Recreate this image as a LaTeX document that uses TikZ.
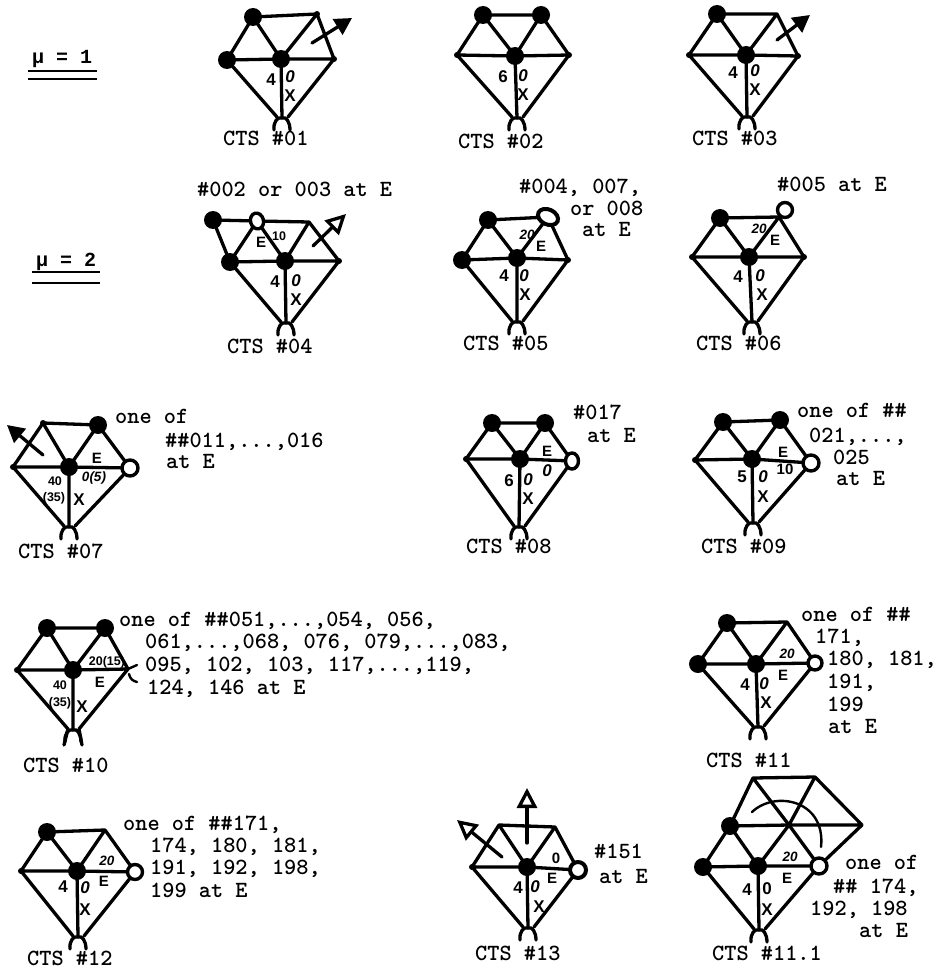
\documentclass[tikz,border=0pt]{standalone}
\usepackage{fontspec}
\usetikzlibrary{calc,arrows.meta,shapes.geometric}
\newfontfamily\hwfont{Liberation Sans}
\newfontfamily\mufont{Liberation Mono}
\tikzset{
  edge/.style={line width=3.3pt,line cap=round,line join=round},
  blob/.style={circle,fill=black,draw=none,inner sep=0pt,minimum size=18pt},
  ring/.style={circle,fill=white,draw=black,line width=3.4pt,inner sep=0pt,minimum size=15pt},
  oval/.style={ellipse,fill=white,draw=black,line width=3.4pt,inner sep=0pt},
  spot/.style={circle,fill=black,draw=none,inner sep=0pt,minimum size=6pt},
  tw/.style={anchor=base west,inner sep=0pt,font=\ttfamily\bfseries\fontsize{23.2}{24}\selectfont},
  mu/.style={anchor=base west,inner sep=0pt,font=\mufont\bfseries\fontsize{20}{22}\selectfont},
  hw/.style={inner sep=0pt,font=\hwfont\bfseries\fontsize{17}{17}\selectfont},
  hwm/.style={inner sep=0pt,font=\hwfont\bfseries\fontsize{15}{15}\selectfont},
  hws/.style={inner sep=0pt,font=\hwfont\bfseries\fontsize{12.5}{13}\selectfont},
  hwi/.style={inner sep=0pt,font=\hwfont\bfseries\itshape\fontsize{17}{17}\selectfont},
  hwsi/.style={inner sep=0pt,font=\hwfont\bfseries\itshape\fontsize{13.5}{14}\selectfont},
  solidarrow/.style={edge,-{Triangle[length=17pt,width=18pt]}},
  openarrow/.style={edge,-{Triangle[open,fill=white,length=20pt,width=20pt]}},
  rule/.style={line width=2pt},
}
% id, TL, TR, L, C, R, B
\newcommand\gem[7]{%
  \coordinate (#1TL) at (#2);
  \coordinate (#1TR) at (#3);
  \coordinate (#1L) at (#4);
  \coordinate (#1C) at (#5);
  \coordinate (#1R) at (#6);
  \coordinate (#1B) at (#7);
  \coordinate (#1BL) at ($(#1B)+(-5,-1)$);
  \coordinate (#1BR) at ($(#1B)+(6,-1)$);
  \coordinate (#1LL) at ($(#1B)+(-8,12)$);
  \coordinate (#1LR) at ($(#1B)+(8,12)$);
  \draw[edge] (#1TL)--(#1TR) (#1TL)--(#1L) (#1TL)--(#1C) (#1TR)--(#1C) (#1TR)--(#1R)
     (#1L)--(#1C)--(#1R) (#1L)--(#1BL) (#1R)--(#1BR) (#1C)--(#1B);
  \draw[edge] (#1LL) .. controls ($(#1B)+(-9,4)$) and ($(#1B)+(-4,-2)$) .. (#1B)
     .. controls ($(#1B)+(4,-2)$) and ($(#1B)+(8,4)$) .. (#1LR);
}
\newcommand\blobat[1]{\node[blob] (#1m) at (#1) {};}
\newcommand\spotat[1]{\node[spot] (#1m) at (#1) {};}
\begin{document}
\begin{tikzpicture}[x=1pt,y=-1pt]
\useasboundingbox (0,0) rectangle (945,971);
% mu headings
\node[mu] (mu1) at (32,64) {μ = 1};
\coordinate (r1a) at (28,71); \coordinate (r1b) at (97,71);
\coordinate (r1c) at (28,79); \coordinate (r1d) at (97,79);
\draw[rule] (r1a)--(r1b) (r1c)--(r1d);
\node[mu] (mu2) at (36,266) {μ = 2};
\coordinate (r2a) at (32,272); \coordinate (r2b) at (100,272);
\coordinate (r2c) at (32,283); \coordinate (r2d) at (100,283);
\draw[rule] (r2a)--(r2b) (r2c)--(r2d);

% CTS 01
\gem{a}{253,17}{317,14}{227,60}{281,59}{334,59}{282,118}
\blobat{aTL}\blobat{aL}\blobat{aC}\spotat{aTR}\spotat{aR}
\coordinate (aA1) at (312,43); \coordinate (aA2) at (352,18);
\draw[solidarrow] (aA1)--(aA2);
\node[hw] (a4) at (271,80) {4}; \node[hwi] (a0) at (290,77) {0}; \node[hw] (aX) at (290,96) {X};
\node[tw] (at) at (223,146) {CTS \#01};
% CTS 02
\gem{b}{483,15}{541,15}{457,55}{515,56}{569,55}{517,118}
\blobat{bTL}\blobat{bTR}\blobat{bC}\spotat{bL}\spotat{bR}
\node[hw] (b6) at (503,77) {6}; \node[hwi] (b0) at (523,76) {0}; \node[hw] (bX) at (523,95) {X};
\node[tw] (bt) at (458,148) {CTS \#02};
% CTS 03
\gem{c}{717,14}{777,14}{689,55}{746,55}{798,56}{747,117}
\blobat{cTL}\blobat{cC}\spotat{cL}\spotat{cR}
\coordinate (cA1) at (777,40); \coordinate (cA2) at (810,15);
\draw[solidarrow] (cA1)--(cA2);
\node[hw] (c4) at (733,73) {4}; \node[hwi] (c0) at (755,71) {0}; \node[hw] (cX) at (755,90) {X};
\node[tw] (ct) at (692,146) {CTS \#03};

% CTS 04
\node[tw] (dn) at (197,196) {\#002 or 003 at E};
\gem{d}{257,221}{309,222}{230,262}{285,261}{339,261}{286,323}
\coordinate (dD) at (213,220);
\draw[edge] (dD)--(dTL) (dD)--(dL);
\blobat{dD}\blobat{dL}\blobat{dC}\spotat{dR}
\node[oval,minimum width=13pt,minimum height=16pt,rotate=15] (dE) at (dTL) {};
\coordinate (dA1) at (313,246); \coordinate (dA2) at (346,214);
\draw[openarrow] (dA1)--(dA2);
\node[hwm] (dEl) at (261,242) {E}; \node[hws] (d10) at (279,236) {10};
\node[hw] (d4) at (275,282) {4}; \node[hwi] (d0) at (296,281) {0}; \node[hw] (dX) at (296,300) {X};
\node[tw] (dt) at (227,353) {CTS \#04};
% CTS 05
\node[tw] (en1) at (519,193) {\#004, 007,};
\node[tw] (en2) at (570,215) {or 008};
\node[tw] (en3) at (582,236) {at E};
\gem{e}{488,220}{548,217}{462,260}{517,258}{568,260}{517,322}
\blobat{eTL}\blobat{eL}\blobat{eC}\spotat{eR}
\node[oval,minimum width=21pt,minimum height=15pt,rotate=-25,line width=4pt] (eE) at (eTR) {};
\node[hwsi] (e20) at (527,235) {20}; \node[hwm] (eEl) at (541,246) {E};
\node[hw] (e4) at (504,276) {4}; \node[hwi] (e0) at (524,276) {0}; \node[hw] (eX) at (525,295) {X};
\node[tw] (et) at (463,350) {CTS \#05};
% CTS 06
\node[tw] (fn) at (777,191) {\#005 at E};
\gem{f}{720,218}{779,217}{692,257}{749,257}{804,257}{752,322}
\blobat{fTL}\blobat{fC}\spotat{fL}\spotat{fR}
\node[ring,minimum size=15pt] (fE) at (785,210) {};
\node[hwsi] (f20) at (759,229) {20}; \node[hwm] (fEl) at (775,240) {E};
\node[hw] (f4) at (738,277) {4}; \node[hwi] (f0) at (760,276) {0}; \node[hw] (fX) at (762,295) {X};
\node[tw] (ft) at (696,350) {CTS \#06};

% CTS 07
\node[tw] (gn1) at (115,423) {one of};
\node[tw] (gn2) at (165,447) {\#\#011,...,016};
\node[tw] (gn3) at (166,468) {at E};
\gem{g}{43,423}{98,425}{13,467}{69,467}{130,468}{69,527}
\blobat{gTR}\blobat{gC}\spotat{gTL}\spotat{gL}
\node[ring,minimum size=16pt] (gE) at (gR) {};
\coordinate (gA1) at (43,455); \coordinate (gA2) at (7,425);
\draw[solidarrow] (gA1)--(gA2);
\node[hwm] (gEl) at (97,458) {E}; \node[hwsi] (g05) at (94,478) {0(5)};
\node[hws] (g40) at (55,481) {40}; \node[hws] (g35) at (54,498) {(35)}; \node[hw] (gX) at (79,500) {X};
\node[tw] (gt) at (18,558) {CTS \#07};
% CTS 08
\node[tw] (hn1) at (573,419) {\#017};
\node[tw] (hn2) at (587,442) {at E};
\gem{h}{492,423}{545,423}{466,459}{520,459}{572,461}{519,527}
\blobat{hTL}\blobat{hTR}\blobat{hC}\spotat{hL}
\node[oval,minimum width=13pt,minimum height=16pt] (hE) at (hR) {};
\node[hwm] (hEl) at (547,451) {E}; \node[hwi] (h00) at (547,471) {0};
\node[hw] (h6) at (509,481) {6}; \node[hwi] (h0) at (528,480) {0}; \node[hw] (hX) at (528,499) {X};
\node[tw] (ht) at (466,553) {CTS \#08};
% CTS 09
\node[tw] (in1) at (797,417) {one of \#\#};
\node[tw] (in2) at (809,442) {021,...,};
\node[tw] (in3) at (833,464) {025};
\node[tw] (in4) at (836,485) {at E};
\gem{i}{723,422}{780,420}{695,460}{752,459}{811,463}{753,523}
\blobat{iTL}\blobat{iTR}\blobat{iC}\spotat{iL}
\node[ring,minimum size=16pt] (iE) at (iR) {};
\node[hwm] (iEl) at (783,452) {E}; \node[hwm] (i10) at (785,469) {10};
\node[hw] (i5) at (742,477) {5}; \node[hwi] (i0) at (763,477) {0}; \node[hw] (iX) at (763,497) {X};
\node[tw] (it) at (701,553) {CTS \#09};

% CTS 10
\node[tw] (jn1) at (119,626) {one of \#\#051,...,054, 056,};
\node[tw] (jn2) at (145,648) {061,...,068, 076, 079,...,083,};
\node[tw] (jn3) at (145,671) {095, 102, 103, 117,...,119,};
\node[tw] (jn4) at (147,694) {124, 146 at E};
\gem{j}{47,628}{105,628}{17,670}{73,670}{128,669}{73,730}
\blobat{jTL}\blobat{jTR}\blobat{jC}\spotat{jL}
\coordinate (jP1) at (137,665); \coordinate (jP2) at (137,682); \coordinate (jP3) at (129,674);
\draw[edge,line width=2.4pt] (jR)--(jP1);
\draw[edge,line width=2.4pt] (jP3) .. controls (130,679) and (133,681) .. (jP2);
\coordinate (jL1) at (64,745); \coordinate (jL2) at (82,745);
\draw[edge] (jBL)--(jL1) (jBR)--(jL2);
\node[hws] (j20) at (107,662) {20(15)}; \node[hwm] (jEl) at (100,682) {E};
\node[hws] (j40) at (60,685) {40}; \node[hws] (j35) at (60,703) {(35)}; \node[hw] (jX) at (82,707) {X};
\node[tw] (jt) at (23,772) {CTS \#10};
% CTS 11
\node[tw] (kn1) at (801,621) {one of \#\#};
\node[tw] (kn2) at (815,643) {171,};
\node[tw] (kn3) at (827,665) {180, 181,};
\node[tw] (kn4) at (827,688) {191,};
\node[tw] (kn5) at (827,711) {199};
\node[tw] (kn6) at (828,733) {at E};
\gem{k}{727,623}{787,622}{698,664}{756,664}{815,663}{758,727}
\blobat{kTL}\blobat{kL}\blobat{kC}
\node[ring,minimum size=14pt] (kE) at (kR) {};
\node[hwsi] (k20) at (787,654) {20}; \node[hwm] (kEl) at (783,675) {E};
\node[hw] (k4) at (745,685) {4}; \node[hwi] (k0) at (764,684) {0}; \node[hw] (kX) at (766,703) {X};
\node[tw] (kt) at (706,767) {CTS \#11};

% CTS 12
\node[tw] (ln1) at (123,830) {one of \#\#171,};
\node[tw] (ln2) at (150,852) {174, 180, 181,};
\node[tw] (ln3) at (150,874) {191, 192, 198,};
\node[tw] (ln4) at (150,897) {199 at E};
\gem{l}{47,832}{105,830}{21,871}{77,871}{135,872}{78,937}
\blobat{lTL}\blobat{lC}\spotat{lL}
\node[ring] (lE) at (lR) {};
\node[hwsi] (l20) at (107,861) {20}; \node[hwm] (lEl) at (104,881) {E};
\node[hw] (l4) at (63,887) {4}; \node[hwi] (l0) at (85,888) {0}; \node[hw] (lX) at (85,910) {X};
\node[tw] (lt) at (27,965) {CTS \#12};
% CTS 13
\node[tw] (mn1) at (594,858) {\#151};
\node[tw] (mn2) at (599,883) {at E};
\gem{m}{499,825}{555,827}{472,867}{527,867}{578,870}{528,928}
\blobat{mC}\spotat{mL}
\node[ring,line width=4pt,minimum size=16pt] (mE) at (mR) {};
\coordinate (mA1) at (527,843); \coordinate (mA2) at (527,788);
\coordinate (mB1) at (502,857); \coordinate (mB2) at (457,820);
\draw[openarrow] (mA1)--(mA2);
\draw[openarrow] (mB1)--(mB2);
\node[hwm] (m00) at (556,858) {0}; \node[hwm] (mEl) at (552,878) {E};
\node[hw] (m4) at (518,888) {4}; \node[hwi] (m0) at (535,887) {0}; \node[hw] (mX) at (539,907) {X};
\node[tw] (mt) at (475,960) {CTS \#13};
% CTS 11.1
\node[tw] (nn1) at (845,869) {one of};
\node[tw] (nn2) at (833,893) {\#\# 174,};
\node[tw] (nn3) at (810,915) {192, 198};
\node[tw] (nn4) at (859,937) {at E};
\gem{n}{730,826}{789,825}{703,867}{758,866}{819,866}{759,930}
\coordinate (nA) at (753,778); \coordinate (nD) at (815,777); \coordinate (nF) at (862,825);
\draw[edge] (nTL)--(nA) (nA)--(nD) (nD)--(nF) (nF)--(nR) (nA)--(nTR) (nD)--(nTR) (nTR)--(nF);
\coordinate (nC1) at (752,812); \coordinate (nC2) at (821,847);
\draw[edge,line width=2.4pt] (nC1) .. controls (775,790) and (826,800) .. (nC2);
\blobat{nTL}\blobat{nL}\blobat{nC}
\node[ring,minimum size=16pt] (nE) at (nR) {};
\node[hwsi] (n20) at (790,857) {20}; \node[hwm] (nEl) at (787,878) {E};
\node[hw] (n4) at (747,890) {4}; \node[hw] (n0) at (767,889) {0}; \node[hw] (nX) at (767,910) {X};
\node[tw] (nt) at (712,960) {CTS \#11.1};
\end{tikzpicture}
\end{document}
